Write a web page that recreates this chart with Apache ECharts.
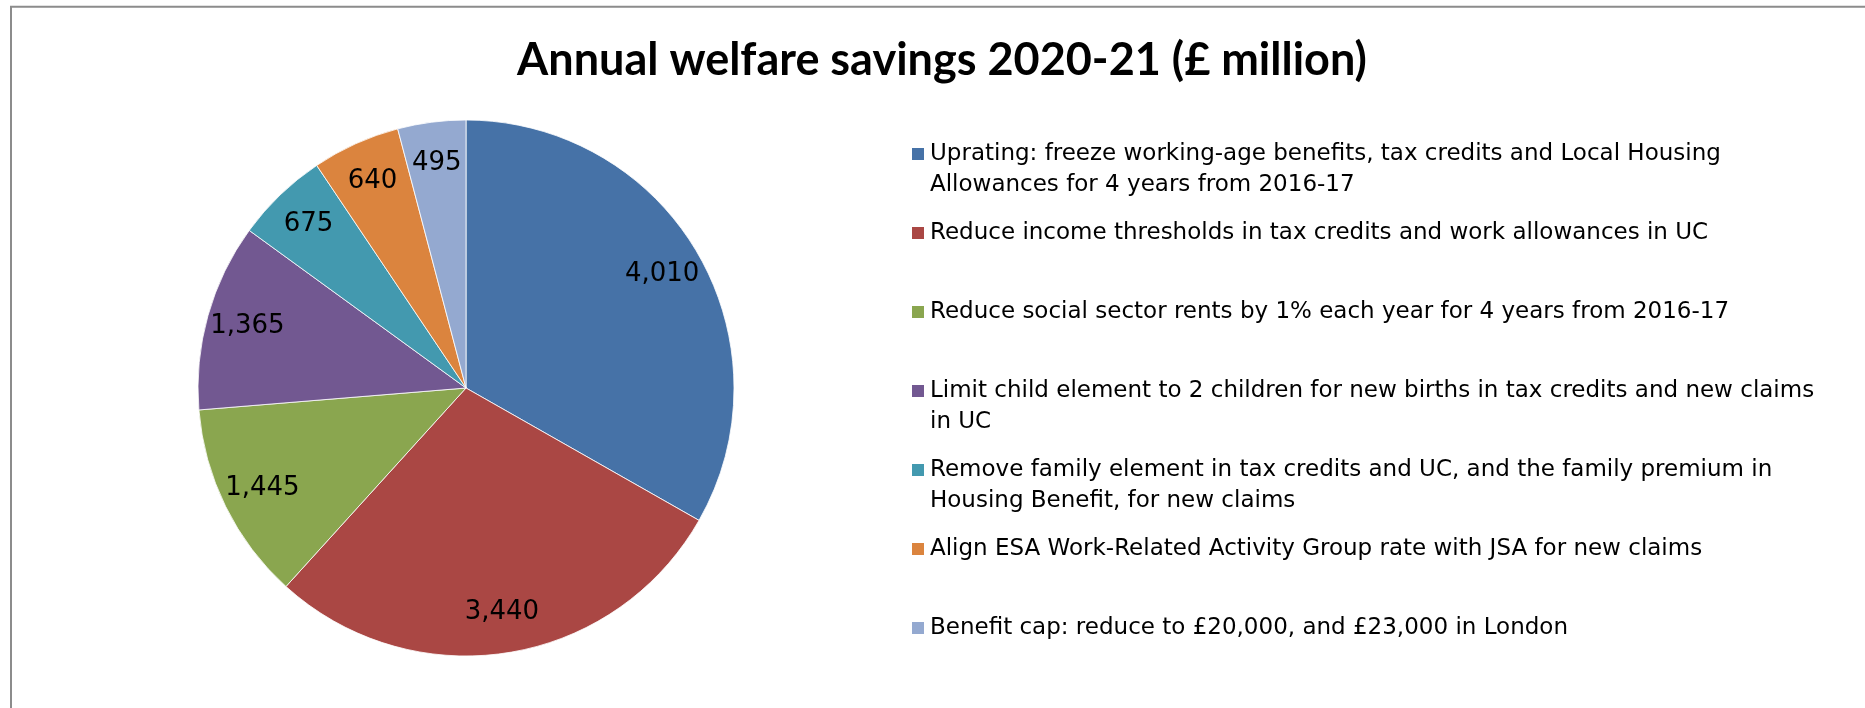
<!DOCTYPE html>
<html>
<head>
<meta charset="utf-8">
<script src="https://cdn.jsdelivr.net/npm/echarts@6/dist/echarts.min.js"></script>
<style>
  html, body { margin: 0; padding: 0; background: #fff; }
  #chart { width: 1865px; height: 708px; }
</style>
</head>
<body>
<div id="chart"></div>
<script>
// Welfare measures and their 2020-21 savings (£ million)
const categories = [
  'Uprating: freeze working-age benefits, tax credits and Local Housing\nAllowances for 4 years from 2016-17',
  'Reduce income thresholds in tax credits and work allowances in UC',
  'Reduce social sector rents by 1% each year for 4 years from 2016-17',
  'Limit child element to 2 children for new births in tax credits and new claims\nin UC',
  'Remove family element in tax credits and UC, and the family premium in\nHousing Benefit, for new claims',
  'Align ESA Work-Related Activity Group rate with JSA for new claims',
  'Benefit cap: reduce to £20,000, and £23,000 in London'
];
const savings = [4010, 3440, 1445, 1365, 675, 640, 495];
const colors = ['#4672A7', '#AA4744', '#8AA64F', '#725891', '#4399AF', '#DB843E', '#94A9D0'];

const titleText = 'Annual welfare savings 2020-21 (£ million)';

const fmt = v => v.toLocaleString('en-GB');
const pieData = categories.map((name, i) => ({ name, value: savings[i], itemStyle: { color: colors[i] } }));

// Legend: every text line is its own legend row, so entries keep an even pitch
// and the swatch sits level with the first line of a wrapped entry.
const LINE_H = 31.5;
const FIRST_ROW = 150, ROW_PITCH = 79;
const legendText = { fontFamily: 'DejaVu Sans', fontSize: 23, color: '#000', lineHeight: LINE_H };
const legends = [];
categories.forEach((name, i) => {
  name.split('\n').forEach((line, k) => {
    legends.push({
      data: [name],
      formatter: () => line,
      orient: 'vertical',
      left: 910,
      top: FIRST_ROW + i * ROW_PITCH + k * LINE_H - LINE_H / 2 + 4,
      padding: 0,
      itemWidth: 14,
      itemHeight: 14,
      itemGap: 0,
      icon: 'rect',
      itemStyle: k === 0 ? {} : { opacity: 0 },
      selectedMode: false,
      textStyle: Object.assign({ padding: [0, 0, 0, 0] }, legendText)
    });
  });
});

const chart = echarts.init(document.getElementById('chart'), null, { renderer: 'canvas' });
chart.setOption({
  backgroundColor: '#fff',
  animation: false,
  title: {
    text: titleText,
    left: 937,
    textAlign: 'center',
    top: 33,
    textStyle: { fontFamily: 'Lato', fontWeight: 'bold', fontSize: 45, color: '#000' }
  },
  legend: legends,
  graphic: [{
    type: 'rect',
    shape: { x: 11, y: 6.7, width: 2000, height: 2000 },
    style: { fill: null, stroke: '#8c8c8c', lineWidth: 2 },
    silent: true,
    z: 100
  }],
  series: [
    {
      type: 'pie',
      center: [466, 388],
      radius: 268,
      startAngle: 90,
      clockwise: true,
      data: pieData,
      label: { show: false },
      labelLine: { show: false },
      itemStyle: { borderColor: '#fff', borderWidth: 0.8 },
      emphasis: { disabled: true }
    },
    {
      // value labels placed near the outer rim
      type: 'pie',
      center: [466, 388],
      radius: [202, 246],
      startAngle: 90,
      clockwise: true,
      silent: true,
      data: pieData.map(d => ({ name: d.name, value: d.value, itemStyle: { color: 'rgba(0,0,0,0)' } })),
      label: {
        show: true,
        position: 'inside',
        formatter: p => fmt(p.value),
        fontFamily: 'DejaVu Sans',
        fontSize: 26,
        color: '#000'
      },
      labelLine: { show: false },
      emphasis: { disabled: true }
    }
  ]
});
</script>
</body>
</html>
